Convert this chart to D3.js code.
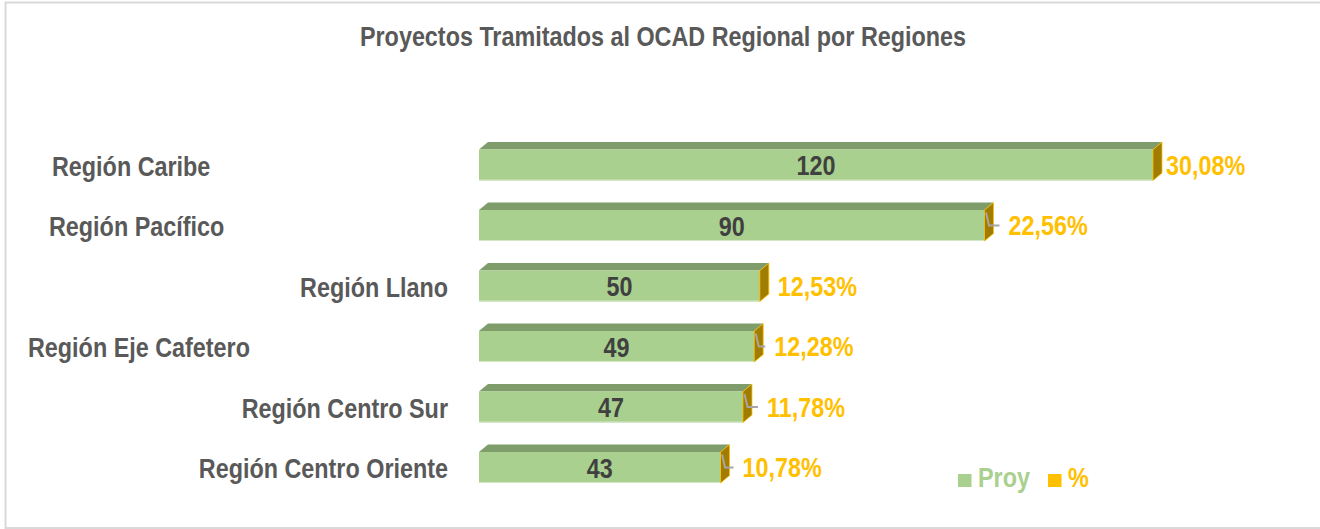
<!DOCTYPE html>
<html>
<head>
<meta charset="utf-8">
<script src="https://cdn.jsdelivr.net/npm/d3@7"></script>
<style>
  body { margin: 0; background: #fff; }
  text { font-family: "Liberation Sans Narrow", "Arial Narrow", "Liberation Sans", Arial, sans-serif; font-weight: bold; }
</style>
</head>
<body>
<div id="chart"></div>
<script>
// data
var regions = ["Región Caribe", "Región Pacífico", "Región Llano", "Región Eje Cafetero", "Región Centro Sur", "Región Centro Oriente"];
var proyectos = [120, 90, 50, 49, 47, 43];
var porcentajes = ["30,08%", "22,56%", "12,53%", "12,28%", "11,78%", "10,78%"];
var seriesNames = ["Proy", "%"];

var svgWidth = 1320;
var svgHeight = 529;

var green = "#A9D08E",
    greenTop = "#7F9D6B",
    gold = "#FFC000",
    goldSide = "#A07D00",
    grayText = "#595959";

// where Excel put the category labels and the % labels (layout only)
var catLabelPos = [["start", 52], ["start", 49], ["end", 448], ["start", 28], ["end", 448], ["end", 448]];
var pctOffset = [13, 24, 18, 20, 24, 22];
var hasLeader = [false, true, false, true, true, true];

var depthX = 9, depthY = 7.5, barH = 31;
var fontSize = "27px";

// no narrow font installed -> squeeze the regular one
function narrow(sel) {
  sel.each(function() {
    var w = this.getComputedTextLength();
    d3.select(this)
      .attr("textLength", w * 0.865)
      .attr("lengthAdjust", "spacingAndGlyphs");
  });
}

var svg = d3.select("#chart")
  .append("svg")
  .attr("width", svgWidth)
  .attr("height", svgHeight);

// chart frame
svg.append("rect")
  .attr("x", 5.5)
  .attr("y", 2.5)
  .attr("width", svgWidth + 10)
  .attr("height", 525.5)
  .attr("fill", "none")
  .attr("stroke", "#D9D9D9")
  .attr("stroke-width", 2);

svg.append("text")
  .attr("x", 663)
  .attr("y", 46)
  .attr("text-anchor", "middle")
  .attr("font-size", fontSize)
  .attr("fill", grayText)
  .text("Proyectos Tramitados al OCAD Regional por Regiones")
  .call(narrow);

var xScale = d3.scaleLinear()
  .domain([0, 120])
  .range([479, 1153]);

var yScale = d3.scalePoint()
  .domain(regions)
  .range([165, 467.5]);

var data = regions.map((r, i) => ({ region: r, proy: proyectos[i], pct: porcentajes[i], i: i }));

var bars = svg.selectAll(".bar")
  .data(data)
  .enter()
  .append("g")
  .attr("class", "bar");

// top face
bars.append("path")
  .attr("fill", greenTop)
  .attr("d", d => {
    var x0 = xScale(0), x1 = xScale(d.proy), t = yScale(d.region) - barH / 2;
    return `M${x0},${t}L${x0 + depthX},${t - depthY}L${x1 + depthX},${t - depthY}L${x1},${t}Z`;
  });

// front face
bars.append("rect")
  .attr("x", xScale(0))
  .attr("y", d => yScale(d.region) - barH / 2)
  .attr("width", d => xScale(d.proy) - xScale(0))
  .attr("height", barH)
  .attr("fill", green);

bars.append("line")
  .attr("x1", xScale(0))
  .attr("x2", d => xScale(d.proy))
  .attr("y1", d => yScale(d.region) + barH / 2 - 0.5)
  .attr("y2", d => yScale(d.region) + barH / 2 - 0.5)
  .attr("stroke", "#D3E7C5")
  .attr("stroke-width", 1);

// side face (the small % segment)
bars.append("path")
  .attr("fill", goldSide)
  .attr("stroke", gold)
  .attr("stroke-width", 0.8)
  .attr("d", d => {
    var x1 = xScale(d.proy), t = yScale(d.region) - barH / 2, b = t + barH;
    return `M${x1},${t}L${x1 + depthX},${t - depthY}L${x1 + depthX},${b - depthY}L${x1},${b}Z`;
  });

// value labels
bars.append("text")
  .attr("x", d => (xScale(0) + xScale(d.proy)) / 2)
  .attr("y", d => yScale(d.region) + 10)
  .attr("text-anchor", "middle")
  .attr("font-size", fontSize)
  .attr("fill", "#404040")
  .text(d => d.proy)
  .call(narrow);

// leader lines
bars.filter(d => hasLeader[d.i])
  .append("polyline")
  .attr("fill", "none")
  .attr("stroke", "#A6A6A6")
  .attr("stroke-width", 2)
  .attr("points", d => {
    var x1 = xScale(d.proy), c = yScale(d.region), t = c - barH / 2;
    var lx = x1 + pctOffset[d.i];
    return `${x1 + 1.5},${t + 2.5} ${x1 + 4.5},${c} ${lx - 9},${c}`;
  });

// % labels
bars.append("text")
  .attr("x", d => xScale(d.proy) + pctOffset[d.i])
  .attr("y", d => yScale(d.region) + 9.5)
  .attr("font-size", fontSize)
  .attr("fill", gold)
  .text(d => d.pct)
  .call(narrow);

// category labels
svg.selectAll(".cat")
  .data(data)
  .enter()
  .append("text")
  .attr("class", "cat")
  .attr("x", d => catLabelPos[d.i][1])
  .attr("y", d => yScale(d.region) + 10.5)
  .attr("text-anchor", d => catLabelPos[d.i][0])
  .attr("font-size", fontSize)
  .attr("fill", grayText)
  .text(d => d.region)
  .call(narrow);

// legend
var legend = svg.append("g").attr("transform", "translate(958, 474)");
var legX = [0, 90];
var legColors = [green, gold];
seriesNames.forEach((s, i) => {
  legend.append("rect")
    .attr("x", legX[i])
    .attr("y", 0)
    .attr("width", 13.5)
    .attr("height", 13)
    .attr("fill", legColors[i]);
  legend.append("text")
    .attr("x", legX[i] + 20)
    .attr("y", 13)
    .attr("font-size", fontSize)
    .attr("fill", legColors[i])
    .text(s)
    .call(narrow);
});
</script>
</body>
</html>
